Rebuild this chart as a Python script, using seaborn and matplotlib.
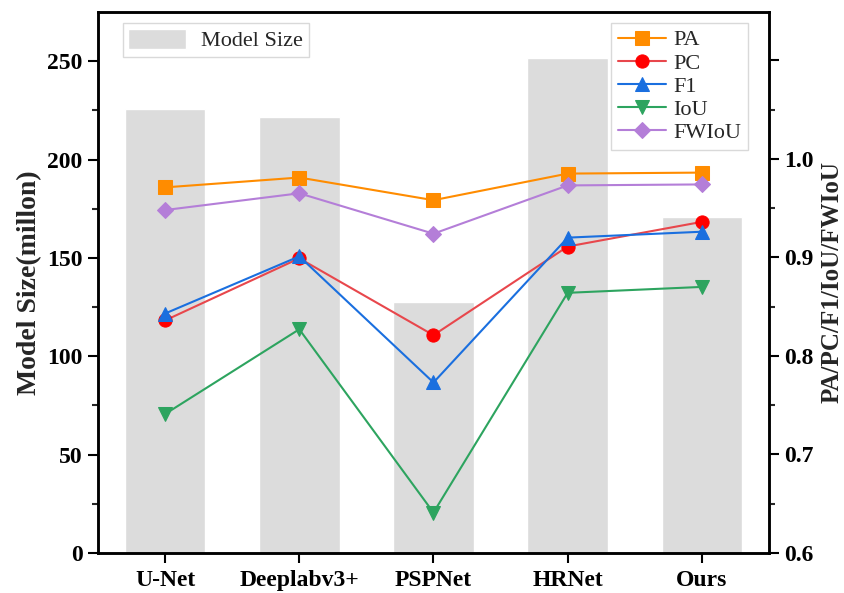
import numpy as np
import pandas as pd
import matplotlib
matplotlib.use("Agg")
import matplotlib.pyplot as plt
import seaborn as sns
from matplotlib.ticker import FixedLocator

models = ["U-Net", "Deeplabv3+", "PSPNet", "HRNet", "Ours"]
model_size = [225.6, 221.5, 127.5, 251.5, 170.7]
pa = [0.971, 0.981, 0.958, 0.985, 0.986]
pc = [0.836, 0.899, 0.821, 0.911, 0.936]
f1 = [0.843, 0.901, 0.773, 0.920, 0.926]
iou = [0.741, 0.827, 0.641, 0.864, 0.870]
fwiou = [0.948, 0.965, 0.924, 0.973, 0.974]

sns.set_theme(style="white")
plt.rcParams['font.family'] = ['Liberation Serif', 'DejaVu Serif']

fig = plt.figure(figsize=(8.44, 5.93), dpi=100)
ax = fig.add_axes([0.1161, 0.0675, 0.795, 0.9123])

df_bar = pd.DataFrame({"Model": models, "Size": model_size})
sns.barplot(data=df_bar, x="Model", y="Size", order=models, color="#dcdcdc",
            saturation=1, width=0.6, ax=ax, label="Model Size")
ax.set_xlim(-0.5, 4.5)
ax.set_ylim(0, 275)
ax.yaxis.set_major_locator(FixedLocator([0, 50, 100, 150, 200, 250]))
ax.yaxis.set_minor_locator(FixedLocator([25, 75, 125, 175, 225]))
ax.set_xlabel("")
ax.set_ylabel("Model Size(millon)", fontsize=20, fontweight="bold", labelpad=4)

ax2 = ax.twinx()
xpos = np.arange(len(models))
series = [
    ("PA", pa, "#FF8C00", "#FF8C00", "s"),
    ("PC", pc, "#E8474C", "#FF0000", "o"),
    ("F1", f1, "#1A6FDF", "#1A6FDF", "^"),
    ("IoU", iou, "#2DA45F", "#2DA45F", "v"),
    ("FWIoU", fwiou, "#B47ED8", "#B47ED8", "D"),
]
for name, vals, lc, mc, mk in series:
    d = pd.DataFrame({"x": xpos, "y": vals})
    sns.lineplot(data=d, x="x", y="y", ax=ax2, color=lc, linewidth=1.5,
                 marker=mk, markersize=9.5 if mk != "D" else 8,
                 markerfacecolor=mc, markeredgecolor=mc, label=name)
ax2.set_ylim(0.6, 1.149)
ax2.yaxis.set_major_locator(FixedLocator([0.6, 0.7, 0.8, 0.9, 1.0, 1.1]))
ax2.set_yticklabels(["0.6", "0.7", "0.8", "0.9", "1.0", ""])
ax2.yaxis.set_minor_locator(FixedLocator([0.65, 0.75, 0.85, 0.95, 1.05]))
ax2.set_xlabel("")
ax2.set_ylabel("PA/PC/F1/IoU/FWIoU", fontsize=18, fontweight="bold", labelpad=5)
ax.set_xlim(-0.5, 4.5)

for a in (ax, ax2):
    for sp in a.spines.values():
        sp.set_linewidth(1.8)
        sp.set_color("black")
    a.tick_params(axis="both", which="major", direction="out", length=7, width=1.5,
                  labelsize=17, colors="black", pad=4)
    a.tick_params(axis="y", which="minor", direction="out", length=4, width=1.5)
    for lab in a.get_xticklabels() + a.get_yticklabels():
        lab.set_fontweight("bold")
ax.tick_params(axis="y", which="both", left=True, right=False)
ax2.tick_params(axis="y", which="both", right=True, left=False)
ax.tick_params(axis="x", bottom=True, top=False, pad=5)

leg1 = ax.legend(loc="upper left", bbox_to_anchor=(0.02, 1.0), fontsize=16,
                 frameon=True, fancybox=False, edgecolor="#d0d0d0",
                 handlelength=2.6, handleheight=1.0, borderpad=0.25,
                 handletextpad=0.7)
leg1.get_frame().set_linewidth(1.0)
leg2 = ax2.legend(loc="upper right", bbox_to_anchor=(0.985, 1.0), fontsize=16,
                  frameon=True, fancybox=False, edgecolor="#d0d0d0",
                  handlelength=2.2, labelspacing=0.12, borderpad=0.3,
                  handletextpad=0.3)
leg2.get_frame().set_linewidth(1.0)

fig.savefig("out.png", dpi=100)
